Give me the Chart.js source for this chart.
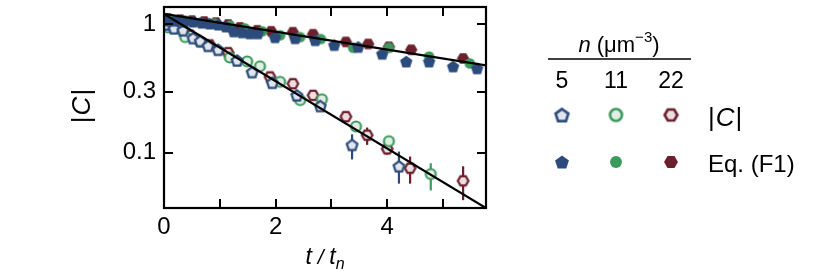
<!DOCTYPE html>
<html><head><meta charset="utf-8">
<script src="https://cdn.jsdelivr.net/npm/chart.js@4.4.0/dist/chart.umd.min.js"></script>
<style>html,body{margin:0;padding:0;background:#fff;}</style>
</head><body>
<canvas id="c" width="830" height="271"></canvas>
<script>
// ---------- data ----------
const xTicks = [0, 1, 2, 3, 4, 5];
const xTickLabels = ['0', '', '2', '', '4', ''];
const yTicks = [0.1, 0.3, 1];
const yTickLabels = ['0.1', '0.3', '1'];
const densities = ['5', '11', '22'];

// Eq. (F1) (filled markers)
const tEq5  = [0.05,0.20,0.36,0.52,0.68,0.82,0.97,1.11,1.25,1.40,1.54,1.68,1.99,2.35,2.71,3.05,3.48,3.91,4.34,4.75,5.18,5.61];
const cEq5  = [1.072,1.072,1.054,1.054,1.035,1.018,1.000,0.966,0.885,0.870,0.855,0.855,0.797,0.783,0.756,0.693,0.670,0.592,0.515,0.515,0.472,0.456];
const tEq11 = [0.11,0.38,0.65,0.91,1.18,1.45,1.76,2.08,2.44,2.81,3.39,4.03,4.75,5.48];
const cEq11 = [1.091,1.072,1.035,1.018,0.983,0.933,0.885,0.825,0.797,0.770,0.658,0.658,0.562,0.497];
const tEq22 = [0.07,0.29,0.50,0.72,0.93,1.15,1.36,1.67,1.92,2.31,2.67,3.26,3.66,4.03,4.43,5.36];
const cEq22 = [1.110,1.091,1.072,1.054,1.035,1.000,0.949,0.901,0.885,0.870,0.840,0.731,0.705,0.670,0.635,0.543];

// |C| (open markers)
const tC5  = [0.05,0.18,0.34,0.52,0.65,0.79,0.97,1.31,1.58,1.94,2.38,2.80,3.37,4.21];
const cC5  = [1.000,0.933,0.901,0.783,0.743,0.681,0.635,0.524,0.425,0.351,0.280,0.231,0.115,0.0783];
const tC11 = [0.07,0.38,0.65,1.18,1.49,1.72,2.08,2.44,2.83,3.44,4.03,4.78];
const cC11 = [0.949,0.797,0.731,0.553,0.515,0.472,0.357,0.257,0.261,0.160,0.123,0.0681];
const tC22 = [0.11,0.47,0.82,1.15,1.90,2.31,2.67,3.26,3.64,4.00,4.41,5.36];
const cC22 = [0.966,0.825,0.693,0.603,0.390,0.345,0.280,0.191,0.137,0.107,0.0756,0.0603];

// error bars of |C|
const errT5  = [3.37, 4.21];       const errLo5  = [0.0885, 0.0573]; const errHi5  = [0.139, 0.102];
const errT11 = [4.78];             const errLo11 = [0.0507];         const errHi11 = [0.0826];
const errT22 = [3.64, 4.00, 4.41, 5.36];
const errLo22 = [0.115, 0.0966, 0.0573, 0.0426];
const errHi22 = [0.157, 0.121, 0.0933, 0.0783];

// fitted lines
const fitT = [0, 5.77];
const fitSlow = [1.21, 0.48];
const fitFast = [1.21, 0.037];

// ---------- styling ----------
const FONT = '"Liberation Sans", Arial, Helvetica, sans-serif';
const BLUE = '#2c4b7c', GREEN = '#3b9a5c', RED = '#6c1f2c';
const TINT = {[BLUE]: '#e3e5ec', [GREEN]: '#e2ede5', [RED]: '#ecdfe1'};

function makeMarker(shape, color, filled, scale) {
  const size = Math.ceil(17 * scale);
  const c = document.createElement('canvas');
  c.width = c.height = size;
  const g = c.getContext('2d');
  const cx = size / 2, cy = size / 2;
  const lw = 2.2 * scale;
  g.beginPath();
  if (shape === 'circle') {
    const r = (filled ? 5.3 : 5.0) * scale;
    g.arc(cx, cy, r, 0, Math.PI * 2);
  } else {
    const n = shape === 'pent' ? 5 : 6;
    const R = (shape === 'pent' ? (filled ? 6.5 : 5.6) : (filled ? 6.2 : 5.3)) * scale;
    const off = shape === 'pent' ? -Math.PI / 2 : 0;
    const dy = shape === 'pent' ? R * 0.1 : 0;
    for (let k = 0; k < n; k++) {
      const a = off + k * 2 * Math.PI / n;
      const px = cx + R * Math.cos(a), py = cy + dy + R * Math.sin(a);
      k ? g.lineTo(px, py) : g.moveTo(px, py);
    }
    g.closePath();
  }
  if (filled) { g.fillStyle = color; g.fill(); }
  else { g.fillStyle = TINT[color]; g.fill(); g.lineWidth = lw; g.strokeStyle = color; g.lineJoin = 'miter'; g.stroke(); }
  return c;
}
const M = {
  open5: makeMarker('pent', BLUE, false, 1), open11: makeMarker('circle', GREEN, false, 1), open22: makeMarker('hex', RED, false, 1),
  fill5: makeMarker('pent', BLUE, true, 1), fill11: makeMarker('circle', GREEN, true, 1), fill22: makeMarker('hex', RED, true, 1),
  lopen5: makeMarker('pent', BLUE, false, 1.2), lopen11: makeMarker('circle', GREEN, false, 1.2), lopen22: makeMarker('hex', RED, false, 1.2),
  lfill5: makeMarker('pent', BLUE, true, 1.12), lfill11: makeMarker('circle', GREEN, true, 1.12), lfill22: makeMarker('hex', RED, true, 1.12)
};

const pts = (ts, cs) => ts.map((t, i) => ({x: t, y: cs[i]}));
function scatter(ts, cs, marker, order) {
  return {type: 'scatter', data: pts(ts, cs), pointStyle: marker, pointRadius: 6, pointHoverRadius: 6, order: order, showLine: false};
}
function errDatasets(ts, lo, hi, color) {
  return ts.map((t, i) => ({type: 'scatter', data: [{x: t, y: lo[i]}, {x: t, y: hi[i]}], showLine: true,
    borderColor: color, borderWidth: 2.2, pointRadius: 0, pointHoverRadius: 0, order: 50}));
}

const datasets = [
  {type: 'scatter', data: pts(fitT, fitSlow), showLine: true, borderColor: '#000', borderWidth: 2.3, pointRadius: 0, order: 0},
  {type: 'scatter', data: pts(fitT, fitFast), showLine: true, borderColor: '#000', borderWidth: 2.3, pointRadius: 0, order: 0},
  scatter(tEq5, cEq5, M.fill5, 10),
  scatter(tEq11, cEq11, M.fill11, 12),
  scatter(tEq22, cEq22, M.fill22, 14),
  scatter(tC5, cC5, M.open5, 11),
  scatter(tC11, cC11, M.open11, 13),
  scatter(tC22, cC22, M.open22, 15),
  ...errDatasets(errT5, errLo5, errHi5, BLUE),
  ...errDatasets(errT11, errLo11, errHi11, GREEN),
  ...errDatasets(errT22, errLo22, errHi22, RED)
];

// text helper: draws runs [{t, italic, size, dy}] starting at x, baseline y
function runs(ctx, parts, x, y, measureOnly) {
  let w = 0;
  for (const p of parts) {
    ctx.font = (p.italic ? 'italic ' : '') + p.size + 'px ' + FONT;
    if (!measureOnly) ctx.fillText(p.t, x + w, y + (p.dy || 0));
    w += ctx.measureText(p.t).width + (p.gap || 0);
  }
  return w;
}

const decor = {
  id: 'decor',
  afterDraw(chart) {
    const ctx = chart.ctx, a = chart.chartArea, xs = chart.scales.x, ys = chart.scales.y;
    ctx.save();
    ctx.strokeStyle = '#000'; ctx.lineWidth = 2.2;
    ctx.strokeRect(a.left, a.top, a.right - a.left, a.bottom - a.top);
    const TL = 9;
    ctx.lineWidth = 2;
    ctx.beginPath();
    xTicks.forEach(v => {
      const px = Math.round(xs.getPixelForValue(v));
      ctx.moveTo(px, a.bottom); ctx.lineTo(px, a.bottom - TL);
      ctx.moveTo(px, a.top); ctx.lineTo(px, a.top + TL);
    });
    yTicks.forEach(v => {
      const py = Math.round(ys.getPixelForValue(v));
      ctx.moveTo(a.left, py); ctx.lineTo(a.left + TL, py);
      ctx.moveTo(a.right, py); ctx.lineTo(a.right - TL, py);
    });
    ctx.stroke();

    ctx.fillStyle = '#000';
    ctx.textBaseline = 'alphabetic'; ctx.textAlign = 'left';
    // x title t/t_n
    const xt = [{t: 't', italic: true, size: 23}, {t: ' / ', italic: true, size: 21}, {t: 't', italic: true, size: 23}, {t: 'n', italic: true, size: 16, dy: 5}];
    const cx = (a.left + a.right) / 2;
    const wx = runs(ctx, xt, 0, 0, true);
    runs(ctx, xt, cx - wx / 2, 264);
    // y title |C|
    ctx.save();
    ctx.translate(90, 106); ctx.rotate(-Math.PI / 2);
    const yt = [{t: '|', size: 26, gap: 1}, {t: 'C', italic: true, size: 26, gap: 1}, {t: '|', size: 26}];
    const wy = runs(ctx, yt, 0, 0, true);
    runs(ctx, yt, -wy / 2, 0);
    ctx.restore();

    // legend
    const head = [{t: 'n', italic: true, size: 22}, {t: ' (μm', size: 22}, {t: '−3', size: 15, dy: -10}, {t: ')', size: 22}];
    const wh = runs(ctx, head, 0, 0, true);
    runs(ctx, head, 619 - wh / 2, 52);
    ctx.lineWidth = 1.6;
    ctx.beginPath(); ctx.moveTo(548, 59); ctx.lineTo(691, 59); ctx.stroke();
    const colX = [562, 616, 671];
    ctx.font = '23px ' + FONT; ctx.textAlign = 'center';
    densities.forEach((d, i) => ctx.fillText(d, colX[i], 88));
    ctx.textAlign = 'left';
    const openM = [M.lopen5, M.lopen11, M.lopen22], fillM = [M.lfill5, M.lfill11, M.lfill22];
    colX.forEach((x, i) => {
      ctx.drawImage(openM[i], x - openM[i].width / 2, 115 - openM[i].height / 2);
      ctx.drawImage(fillM[i], x - fillM[i].width / 2, 162 - fillM[i].height / 2);
    });
    runs(ctx, [{t: '|', size: 26, gap: 1}, {t: 'C', italic: true, size: 26, gap: 1}, {t: '|', size: 26}], 708, 126);
    runs(ctx, [{t: 'Eq. (F1)', size: 24}], 708, 172);
    ctx.restore();
  }
};

new Chart(document.getElementById('c'), {
  data: {datasets},
  options: {
    responsive: false, animation: false, devicePixelRatio: 1,
    layout: {padding: {left: 0, right: 344, top: 1, bottom: 0}},
    plugins: {legend: {display: false}, tooltip: {enabled: false}},
    scales: {
      x: {
        type: 'linear', min: 0, max: 5.77,
        afterBuildTicks: s => { s.ticks = xTicks.map(v => ({value: v})); },
        afterFit: s => { s.height = 63; s.paddingLeft = 0; s.paddingRight = 0; },
        grid: {display: false, drawTicks: false}, border: {display: false},
        ticks: {callback: (v, i) => xTickLabels[i], color: '#000', font: {family: FONT, size: 24}, padding: 5, maxRotation: 0, autoSkip: false}
      },
      y: {
        type: 'logarithmic', min: 0.037, max: 1.369,
        afterBuildTicks: s => { s.ticks = yTicks.map(v => ({value: v})); },
        afterFit: s => { s.width = 164; s.paddingTop = 0; s.paddingBottom = 0; },
        grid: {display: false, drawTicks: false}, border: {display: false},
        ticks: {callback: (v, i) => yTickLabels[i], color: '#000', font: {family: FONT, size: 24}, padding: 8, autoSkip: false}
      }
    }
  },
  plugins: [decor]
});
</script>
</body></html>
